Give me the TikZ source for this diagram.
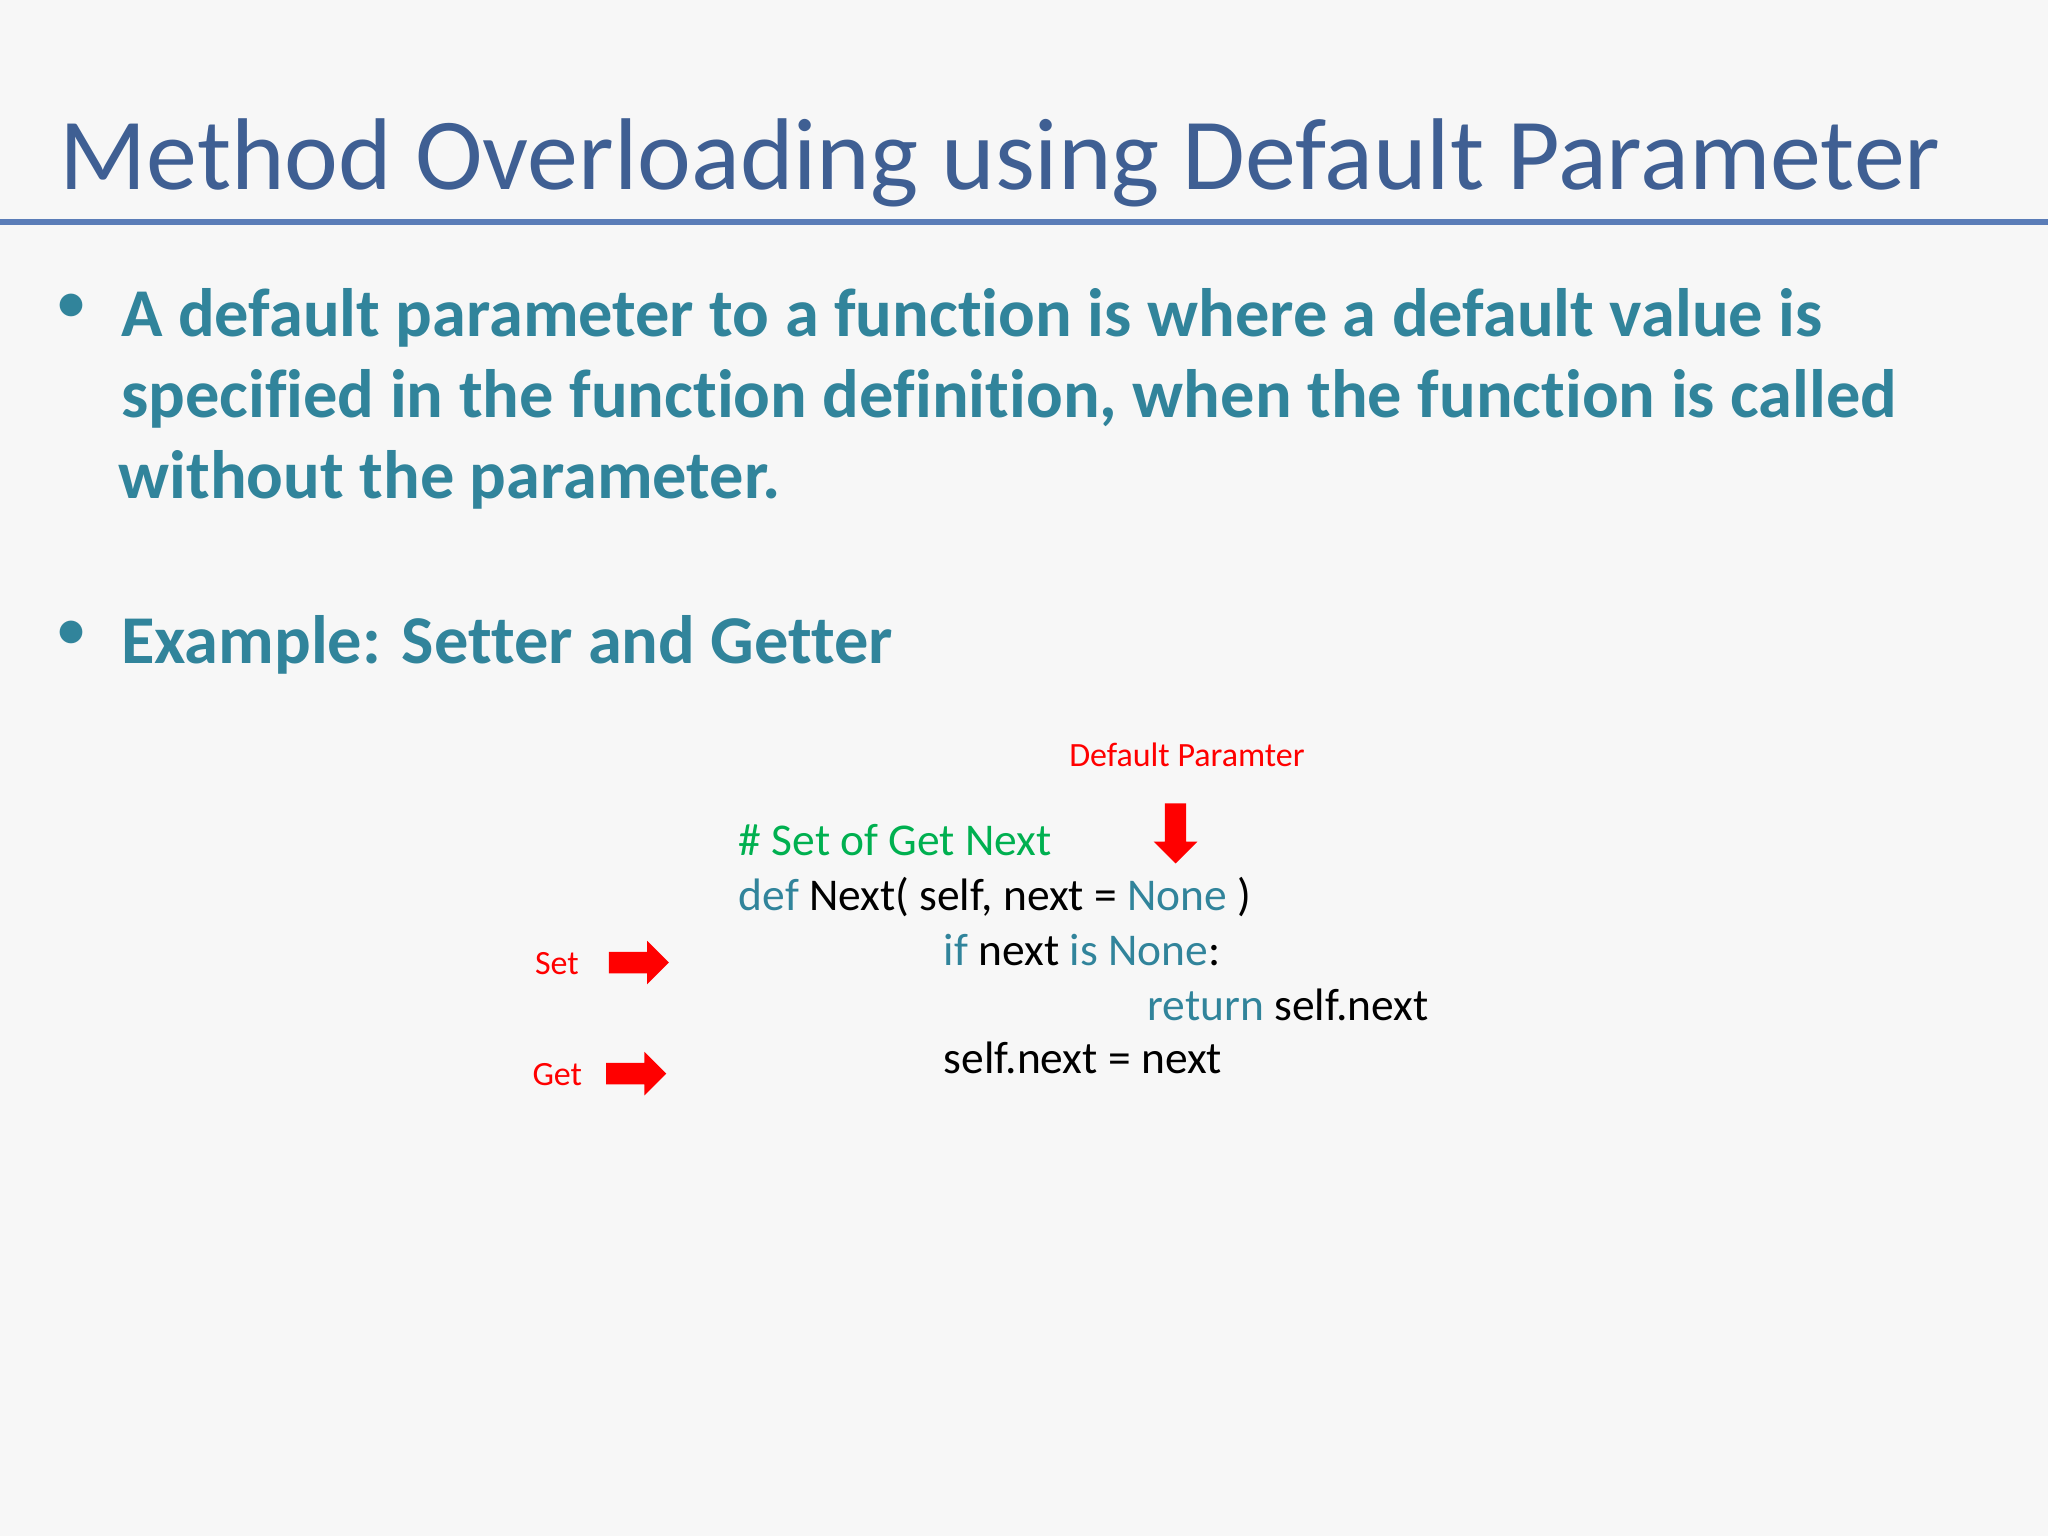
\documentclass[tikz,border=0pt]{standalone}
\usepackage{fontspec}
\setmainfont[Ligatures=NoCommon]{Carlito}
\usetikzlibrary{shapes.arrows}
\definecolor{titleblue}{HTML}{3F5F93}
\definecolor{rulecol}{HTML}{5B7DB8}
\definecolor{bullteal}{HTML}{31849B}
\definecolor{kwteal}{HTML}{31849B}
\definecolor{cmtgreen}{HTML}{00B050}
\definecolor{bgray}{HTML}{F7F7F7}
\tikzset{
  txt/.style={anchor=base west,inner sep=0pt},
  bull/.style={txt,font=\fontsize{14.9}{18}\selectfont\bfseries,color=bullteal},
  code/.style={txt,font=\fontsize{9.9}{12}\selectfont},
  lbl/.style={txt,font=\fontsize{7.4}{9}\selectfont,color=red},
  redarrow/.style={single arrow,fill=red,draw=none,minimum height=0.46cm,inner sep=0.075cm,single arrow head extend=0.085cm}
}
\newcommand{\kw}[1]{\textcolor{kwteal}{#1}}
\begin{document}
\begin{tikzpicture}[x=0.01cm,y=-0.01cm]
	\useasboundingbox (0,0) rectangle (1568,1176);
	\fill[bgray] (0,0) rectangle (1568,1176);
	\node[txt,font=\fontsize{22.2}{26}\selectfont,color=titleblue] (title) at (45,145) {Method Overloading using Default Parameter};
	\draw[rulecol,line width=1.2pt] (0,170) -- (1568,170);
	% bullets
	\foreach \y in {258,508}
	\node[txt,font=\fontsize{14}{17}\selectfont,color=bullteal] at (42,\y-10) {\textbullet};
	\node[bull] (l1) at (92,258) {A default parameter to a function is where a default value is};
	\node[bull] (l2) at (92,320) {specified in the function definition, when the function is called};
	\node[bull] (l3) at (90,382) {without the parameter.};
	\node[bull] (ex) at (92,508) {Example: Setter and Getter};
	% code
	\node[code,color=cmtgreen] (cmt) at (565,655) {\# Set of Get Next};
	\node[code] (def) at (565,697) {\kw{def} Next( self, next = \kw{None} )};
	\node[code] (if) at (722,739) {\kw{if} next \kw{is} \kw{None}:};
	\node[code] (ret) at (878,781) {\kw{return} self.next};
	\node[code] (asg) at (722,822) {self.next = next};
	% labels and arrows
	\node[lbl] (dflt) at (818,587) {Default Paramter};
	\node[redarrow,rotate=-90] (dar) at (900,634) {};
	\node[lbl] (set) at (409,746) {Set};
	\node[redarrow] (sar) at (485,737) {};
	\node[lbl] (get) at (407,831) {Get};
	\node[redarrow] (gar) at (483,822) {};
\end{tikzpicture}
\end{document}
